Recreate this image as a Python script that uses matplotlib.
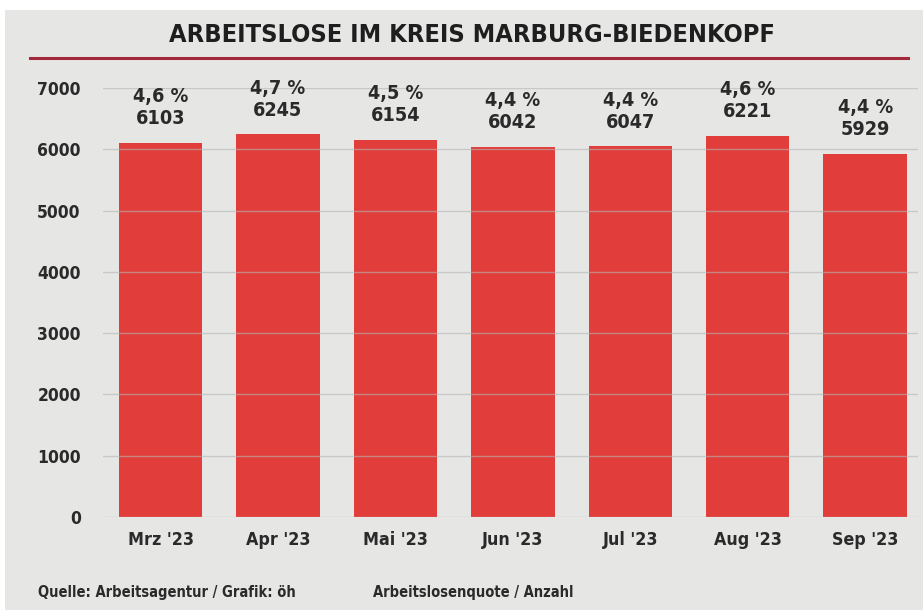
import matplotlib.pyplot as plt
from matplotlib.lines import Line2D

months = ["Mrz '23", "Apr '23", "Mai '23", "Jun '23", "Jul '23", "Aug '23", "Sep '23"]
anzahl = [6103, 6245, 6154, 6042, 6047, 6221, 5929]
quote = ["4,6 %", "4,7 %", "4,5 %", "4,4 %", "4,4 %", "4,6 %", "4,4 %"]
yticks = [0, 1000, 2000, 3000, 4000, 5000, 6000, 7000]

plt.rcParams['font.family'] = ['Liberation Sans Narrow', 'DejaVu Sans']
plt.rcParams['font.stretch'] = 'condensed'
plt.rcParams['font.weight'] = 'bold'

bg = "#e6e7e5"
red = "#e13d3a"

fig = plt.figure(figsize=(9.23, 6.10), dpi=100)
fig.patch.set_facecolor("white")
# grey panel with thin white border
fig.patches.append(plt.Rectangle((5/923, 0), 1, 1 - 10/610, transform=fig.transFigure,
                                 facecolor=bg, edgecolor="none", zorder=-5))

ax = fig.add_axes([103/923, 1 - 517/610, (918 - 103)/923, (517 - 88)/610])
ax.set_facecolor("none")
ax.set_zorder(2)

x = range(len(months))
ax.bar(x, anzahl, width=0.71, color=red, zorder=1)

for yt in yticks:
    ax.axhline(yt, color="#b4b5b3", lw=1.0, alpha=0.6, zorder=2)

for i in x:
    ax.text(i, anzahl[i] + 240, quote[i] + "\n" + str(anzahl[i]), ha="center", va="bottom",
            fontsize=14.2, fontweight="bold", color="#2a2a2a", linespacing=1.2, clip_on=False)

ax.set_xlim(-0.49, 6.45)
ax.set_ylim(0, 7000)
ax.set_yticks(yticks)
ax.set_yticklabels([str(v) for v in yticks], fontsize=12.5, fontweight="bold", color="#2a2a2a")
ax.set_xticks(list(x))
ax.set_xticklabels(months, fontsize=12.8, fontweight="bold", color="#2a2a2a")
ax.tick_params(axis="both", length=0)
ax.tick_params(axis="y", pad=16)
ax.tick_params(axis="x", pad=10)
for s in ax.spines.values():
    s.set_visible(False)

fig.text(472/923, 1 - 35/610, "ARBEITSLOSE IM KREIS MARBURG-BIEDENKOPF", ha="center", va="center",
         fontsize=18.2, fontweight="bold", color="#1e1e1e")
fig.add_artist(Line2D([30/923, 908/923], [1 - 58/610, 1 - 58/610], color="#a3283a", lw=2.2))

fig.text(38/923, 1 - 592/610, "Quelle: Arbeitsagentur / Grafik: öh", ha="left", va="center",
         fontsize=10.5, fontweight="bold", color="#2a2a2a")
fig.text(373/923, 1 - 592/610, "Arbeitslosenquote / Anzahl", ha="left", va="center",
         fontsize=10.5, fontweight="bold", color="#2a2a2a")

fig.savefig("out.png", dpi=100, facecolor=fig.get_facecolor())
